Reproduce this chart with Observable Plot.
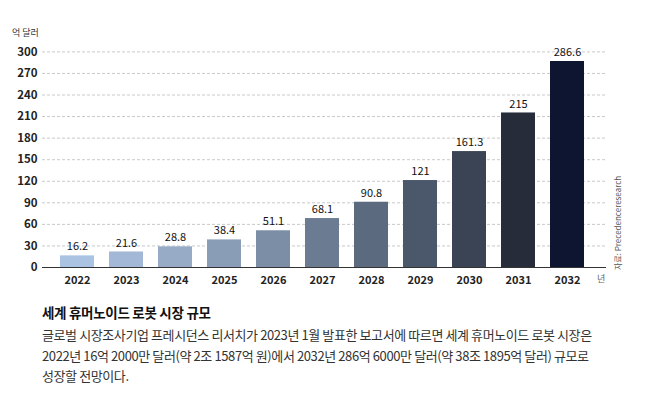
<!DOCTYPE html>
<html>
<head>
<meta charset="utf-8">
<script src="https://cdn.jsdelivr.net/npm/d3@7"></script>
<script src="https://cdn.jsdelivr.net/npm/@observablehq/plot@0.6"></script>
<style>
  body { margin: 0; background: #fff; font-family: "Noto Sans CJK KR", "Noto Sans", sans-serif; }
  #wrap { position: relative; width: 646px; }
  .unit { position: absolute; left: 12px; top: 26px; font-size: 9px; color: #333; }
  .year-unit { position: absolute; left: 597px; top: 272px; font-size: 9px; color: #666; }
  .source { position: absolute; left: 612px; top: 270px; font-size: 8px; color: #555; transform: rotate(-90deg); transform-origin: 0 0; white-space: nowrap; }
  .title { margin: 7px 0 0 42px; font-size: 13.5px; font-weight: bold; color: #111; letter-spacing: -0.3px; }
  .body { margin: 3px 0 0 42px; width: 600px; font-size: 13px; line-height: 20.5px; color: #333; letter-spacing: -0.4px; white-space: nowrap; }
</style>
</head>
<body>
<div id="wrap">
  <div id="chart"></div>
  <div class="unit">억 달러</div>
  <div class="year-unit">년</div>
  <div class="source">자료: Precedenceresearch</div>
</div>
<div class="title">세계 휴머노이드 로봇 시장 규모</div>
<div class="body">글로벌 시장조사기업 프레시던스 리서치가 2023년 1월 발표한 보고서에 따르면 세계 휴머노이드 로봇 시장은<br>2022년 16억 2000만 달러(약 2조 1587억 원)에서 2032년 286억 6000만 달러(약 38조 1895억 달러) 규모로<br>성장할 전망이다.</div>
<script>
const years = ["2022","2023","2024","2025","2026","2027","2028","2029","2030","2031","2032"];
const values = [16.2, 21.6, 28.8, 38.4, 51.1, 68.1, 90.8, 121, 161.3, 215, 286.6];
const labels = ["16.2","21.6","28.8","38.4","51.1","68.1","90.8","121","161.3","215","286.6"];
const colors = ["#abc3e3","#a3b8d6","#97abc6","#8a9db6","#7c8ea5","#6b7b92","#5c6a7f","#4b586b","#3a4454","#262c3a","#0e1530"];
const yTicks = [0,30,60,90,120,150,180,210,240,270,300];

const data = years.map((y, i) => ({year: y, value: values[i], label: labels[i], color: colors[i]}));

const chart = Plot.plot({
  width: 646,
  height: 295,
  marginLeft: 42,
  marginRight: 40,
  marginTop: 37,
  marginBottom: 28,
  style: {fontFamily: "'Noto Sans CJK KR', sans-serif", color: "#222", background: "#fff"},
  x: {domain: years, range: [42, 601], paddingInner: 0.31, paddingOuter: 0.325, label: null},
  y: {domain: [0, 320], label: null},
  marks: [
    Plot.gridY(yTicks, {stroke: "#bbb", strokeOpacity: 1, strokeDasharray: "3,2", strokeWidth: 0.8}),
    Plot.barY(data, {x: "year", y: "value", fill: "color"}),
    Plot.text(data, {x: "year", y: "value", text: "label", dy: -9, fontSize: 11, fill: "#111"}),
    Plot.axisY(yTicks, {tickSize: 0, tickPadding: 5, fontSize: 11.5, fontWeight: "bold", fill: "#222", label: null}),
    Plot.axisX({tickSize: 0, tickPadding: 9, fontSize: 11, fontWeight: "bold", fill: "#222", label: null}),
    Plot.ruleY([0], {stroke: "#333", strokeWidth: 1.2}),
    Plot.ruleX([0], {x: () => null, frameAnchor: "left", y1: 0, y2: 320, stroke: "#333", strokeWidth: 1.2})
  ]
});
document.getElementById("chart").appendChild(chart);
</script>
</body>
</html>
